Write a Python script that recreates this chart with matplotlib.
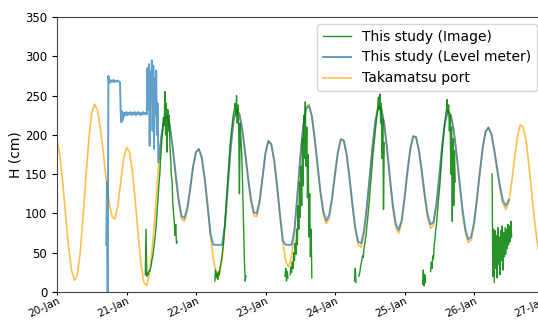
import numpy as np
import pandas as pd
import matplotlib
matplotlib.use('Agg')
import matplotlib.pyplot as plt
import matplotlib.dates as mdates

t0 = pd.Timestamp('2021-01-20')

# Takamatsu port tide, hourly from 20-Jan 00:00 (cm)
port = [195, 173, 138, 97, 58, 28, 15, 21, 50, 95, 148, 194, 228,
        239, 231, 208, 177, 143, 114, 96, 93, 110, 140, 169, 184,
        179, 154, 117, 74, 36, 12, 8, 24, 60, 106, 155, 195, 220,
        224, 210, 181, 146, 114, 93, 90, 104, 130, 159, 178,
        182, 170, 143, 108, 72, 42, 23, 20, 41, 84, 134, 184, 220, 234,
        227, 206, 175, 142, 114, 97, 96, 114, 146, 177, 193,
        188, 166, 133, 96, 63, 39, 32, 45, 77, 122, 171, 211, 235,
        239, 224, 194, 159, 124, 98, 87, 94, 118, 149, 178, 195,
        193, 175, 144, 109, 79, 60, 57, 74, 107, 147, 187, 220, 237,
        234, 214, 180, 141, 106, 82, 75, 88, 117, 152, 182, 199,
        197, 179, 151, 120, 94, 81, 85, 109, 146, 186, 218, 232,
        226, 205, 173, 137, 102, 76, 63, 66, 85, 116, 152, 184, 205,
        210, 201, 180, 155, 131, 112, 105, 114, 139, 170, 198, 213,
        210, 192, 160, 124, 88, 58, 42, 41]

# level meter: 15-min readings from 20-Jan 17:00, then hourly from 21-Jan 11:00
meter_early = [60, 140, 0, 275,
               266, 270, 267, 269, 268, 268, 270, 267, 268, 269, 268, 268, 269, 268, 268, 267,
               229, 216, 230, 219, 228, 224, 228, 226, 229, 225, 228, 226, 228, 227, 229, 225,
               228, 227, 226, 229, 227, 225, 228, 227, 229, 226, 228, 227, 225, 228, 227, 229,
               226, 228, 227, 228, 226,
               285, 232, 290, 186, 280, 242, 295, 205, 288, 182, 272, 226, 282, 200, 240]
meter_hourly = [165, 197, 221, 224, 211, 183, 149, 118, 97,
                94, 107, 132, 160, 178, 182, 171, 145, 111, 74,
                60, 60, 60, 60, 86, 135, 184, 219, 231, 226,
                206, 177, 145, 118, 101, 100, 117, 147, 177, 192,
                188, 168, 135, 99, 65, 60, 60, 60, 79, 123,
                171, 210, 233, 237, 224, 195, 161, 127, 102, 91,
                98, 120, 150, 178, 194, 193, 176, 146, 112, 82,
                64, 62, 77, 109, 148, 187, 219, 235, 233, 214,
                182, 144, 110, 86, 79, 91, 119, 153, 182, 198,
                197, 180, 153, 123, 98, 86, 89, 112, 147, 186,
                216, 229, 225, 206, 175, 140, 106, 80, 67, 70,
                88, 118, 152, 183, 204, 209, 201, 181, 157, 134,
                116, 110, 117]

nan = np.nan
# image based water level, 15-min readings, (start hour, values)
img_segments = [
    (30.5, [22, 80, 20, 24, 22, 27, 26, 30, 33, 40, 44, 50, 58, 66, 74, 86, 98, 112, 128, 140,
            150, 168, 180, 196, 205, 222, 212, 255, 200, 240, 178, 232, 205, 225, 185, 170,
            148, 140, 112, 100, 90, 72, 86, 62, 64]),
    (54.5, [14, 28, 18, 24, 16, 26, 22, 30, 34, 40, 46, 54, 62, 74, 88, 102, 115, 130, 145, 160,
            172, 186, 196, 205, 214, 222, 228, 232, 240, 225, 250, 215, 238, 205, 125, 215,
            195, 180, 150, 110, 70, 35, 14, 20]),
    (78.75, [20, 30, 14, 26, 18, nan, nan, 22, 32, 25, 38, 30, 50, 40, 62, 48, 80, 60, 110, 80,
             140, 95, 160, 110, 195, 135, 225, 170, 242, 160, 210, 120, 175, 70, 125, 45, 80, 18]),
    (102.75, [14, 30, 12, nan, nan, nan, 20, 24, 30, 36, 40, 46, 44, 55, 60, 68, 72, 84, 92, 102,
              112, 124, 136, 146, 158, 170, 180, 190, 198, 208, 216, 226, 236, 248, 232, 252,
              215, 240, 170, 220, 105, 190]),
    (126.25, [10, 28, 8, 22, 12, nan, nan, nan, nan, nan, nan, 26, 38, 30, 46, 42, 60, 66, 78, 84,
              96, 106, 118, 128, 138, 152, 166, 178, 188, 200, 210, 218, 226, 232, 245, 228,
              238, 205, 225, 150, 210, 90, 195, 110, 180, 140]),
    (150.25, [150, 20, 80, 12, 78, 30, 72, 18, 82, 35, 70, 22, 78, 40, 84, 28, 76, 45, 82, 48,
              80, 55, 86, 60, 84, 64, 90, 70]),
]


def times(start_hour, n, step):
    return t0 + pd.to_timedelta(start_hour + np.arange(n) * step, unit='h')


port_t = times(0, len(port), 1.0)
meter_t = times(17.0, len(meter_early), 0.25).append(times(35, len(meter_hourly), 1.0))
meter_v = meter_early + meter_hourly

# join the image segments, with a gap (nan) between them
img_t, img_v = [], []
for start, vals in img_segments:
    seg_t = list(times(start, len(vals), 0.25))
    img_t += seg_t + [seg_t[-1]]
    img_v += vals + [nan]
img_t = pd.DatetimeIndex(img_t)

fig = plt.figure(figsize=(5.38, 3.22), dpi=100)
ax = fig.add_axes([57 / 538, 30 / 322, 486.5 / 538, 275 / 322])

ax.plot(img_t, img_v, color='green', alpha=0.85, lw=1.0, zorder=4, label='This study (Image)')
ax.plot(meter_t, meter_v, color='tab:blue', alpha=0.7, lw=1.4, zorder=3, label='This study (Level meter)')
ax.plot(port_t, port, color='orange', alpha=0.7, lw=1.2, zorder=2, label='Takamatsu port')

ax.set_xlim(t0, t0 + pd.Timedelta(days=7))
ax.set_ylim(0, 350)
ax.xaxis.set_major_locator(mdates.DayLocator())
ax.xaxis.set_major_formatter(mdates.DateFormatter('%d-%b'))
ax.tick_params(axis='y', labelsize=8.5)
ax.tick_params(axis='x', labelsize=7.5, pad=0.5, length=2.5)
plt.setp(ax.get_xticklabels(), rotation=25, ha='right', rotation_mode='anchor')
for s in ax.spines.values():
    s.set_color('#444444')
ax.set_ylabel('H (cm)', fontsize=10, labelpad=2)
ax.legend(loc='upper right', fontsize=10)

fig.savefig('out.png', dpi=100)
